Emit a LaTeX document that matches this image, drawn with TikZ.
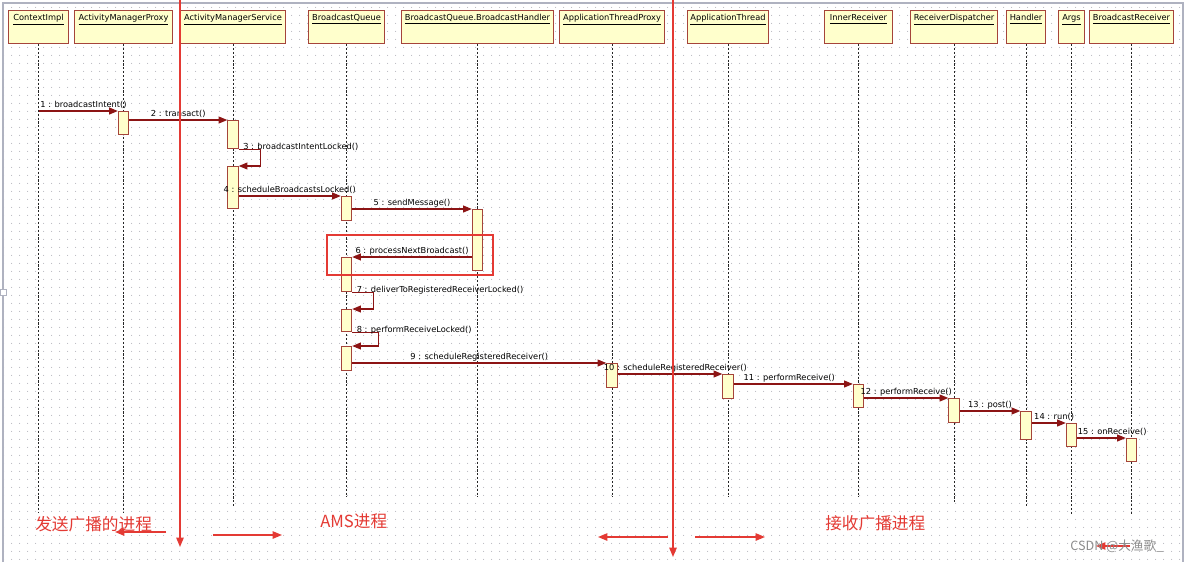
\documentclass[tikz,border=0pt]{standalone}
\usepackage{fontspec}
\setmainfont{DejaVu Sans}
\newfontfamily\cjk{Noto Sans CJK SC}
\usetikzlibrary{arrows.meta,patterns.meta}
\definecolor{hdrfill}{RGB}{255,255,204}
\definecolor{hdrline}{RGB}{165,68,58}
\definecolor{msgcol}{RGB}{140,20,20}
\definecolor{redmark}{RGB}{228,58,52}
\definecolor{dotcol}{RGB}{185,185,192}
\definecolor{framecol}{RGB}{175,178,192}
\tikzdeclarepattern{name=griddots, type=uncolored,
  bounding box={(0pt,0pt) and (6pt,6pt)}, tile size={(6pt,6pt)},
  code={\fill (3pt,3pt) circle (0.45pt);}}
\newcommand\hdrnode[4]{%
  \node[hdr, minimum width={(#3-#2)*0.75pt}] (#1) at (#2,10) {};
  \node[anchor=north, inner sep=0pt] (#1t) at ([yshift=-3.2pt]#1.north) {\underline{#4}};}
\newcommand\actnode[4]{%
  \node[act, minimum height={(#4-#3)*0.75pt}] (#1) at (#2.south |- 0,#3) {};}
\begin{document}
\begin{tikzpicture}[x=0.75pt,y=-0.75pt, font=\fontsize{6.2}{7}\selectfont,
  hdr/.style={draw=hdrline, fill=hdrfill, line width=0.8pt, anchor=north west, minimum height=24.75pt, inner sep=0pt},
  act/.style={draw=hdrline, fill=hdrfill, line width=0.8pt, anchor=north, minimum width=7.8pt, inner sep=0pt},
  life/.style={draw=black!85, line width=0.8pt, dash pattern=on 1.6pt off 1.3pt},
  msg/.style={draw=msgcol, line width=0.8pt, -{Triangle[length=6.5pt,width=5.2pt]}},
  lbl/.style={text=black, inner sep=1.2pt},
  slbl/.style={text=black, inner sep=0pt, anchor=base west},
  redln/.style={draw=redmark, line width=1.1pt, -{Triangle[length=7pt,width=5.5pt]}},
  hlbox/.style={draw=redmark, color=redmark, line width=1.1pt},
  zh/.style={text=redmark, inner sep=0pt, font=\cjk\fontsize{12.5}{14}\selectfont}]
\useasboundingbox (0,0) rectangle (1200,562);
\fill[white] (0,0) rectangle (1200,562);
\fill[pattern=griddots, pattern color=dotcol] (3,3) rectangle (1183,562);
\draw[framecol, line width=0.8pt] (3,562) -- (3,3) -- (1183,3) -- (1183,562);
\node[draw=framecol, fill=white, minimum size=4.5pt, inner sep=0pt, line width=0.6pt] (handle) at (3,292) {};

% headers
\hdrnode{h1}{8}{68}{ContextImpl}
\hdrnode{h2}{74}{172}{ActivityManagerProxy}
\hdrnode{h3}{180}{285}{ActivityManagerService}
\hdrnode{h4}{308}{384}{BroadcastQueue}
\hdrnode{h5}{401}{553}{BroadcastQueue.BroadcastHandler}
\hdrnode{h6}{559}{664}{ApplicationThreadProxy}
\hdrnode{h7}{687}{768}{ApplicationThread}
\hdrnode{h8}{824}{892}{InnerReceiver}
\hdrnode{h9}{910}{997}{ReceiverDispatcher}
\hdrnode{h10}{1006}{1045}{Handler}
\hdrnode{h11}{1058}{1084}{Args}
\hdrnode{h12}{1089}{1173}{BroadcastReceiver}

% lifelines
\draw[life] (h1.south) -- (h1.south |- 0,512);
\draw[life] (h2.south) -- (h2.south |- 0,512);
\draw[life] (h3.south) -- (h3.south |- 0,506);
\draw[life] (h4.south) -- (h4.south |- 0,497);
\draw[life] (h5.south) -- (h5.south |- 0,497);
\draw[life] (h6.south) -- (h6.south |- 0,497);
\draw[life] (h7.south) -- (h7.south |- 0,497);
\draw[life] (h8.south) -- (h8.south |- 0,497);
\draw[life] (h9.south) -- (h9.south |- 0,503);
\draw[life] (h10.south) -- (h10.south |- 0,508);
\draw[life] (h11.south) -- (h11.south |- 0,515);
\draw[life] (h12.south) -- (h12.south |- 0,515);

% activations
\actnode{p1}{h2}{111}{134}
\actnode{s1}{h3}{120}{148}
\actnode{s2}{h3}{166}{208}
\actnode{q1}{h4}{196}{220}
\actnode{b1}{h5}{209}{270}
\actnode{q2}{h4}{257}{291}
\actnode{q3}{h4}{309}{331}
\actnode{q4}{h4}{346}{370}
\actnode{t1}{h6}{363}{387}
\actnode{u1}{h7}{374}{398}
\actnode{i1}{h8}{384}{407}
\actnode{r1}{h9}{398}{422}
\actnode{d1}{h10}{411}{439}
\actnode{g1}{h11}{423}{446}
\actnode{k1}{h12}{438}{461}

% messages
\draw[msg] (h1.south |- p1.north) -- (p1.north west) node[lbl, midway, above, xshift=4pt] {1 : broadcastIntent()};
\draw[msg] (p1.east |- s1.north) -- (s1.north west) node[lbl, midway, above] {2 : transact()};
\draw[msg] (s1.south east) -- node[slbl, pos=0, xshift=3pt] {3 : broadcastIntentLocked()} ++(22,0) |- (s2.north east);
\draw[msg] (s2.east |- q1.north) -- (q1.north west) node[lbl, midway, above] {4 : scheduleBroadcastsLocked()};
\draw[msg] (q1.east |- b1.north) -- (b1.north west) node[lbl, midway, above] {5 : sendMessage()};
\draw[msg] (b1.west |- q2.north) -- (q2.north east) node[lbl, midway, above] {6 : processNextBroadcast()};
\draw[msg] (q2.south east) -- node[slbl, pos=0, xshift=3pt] {7 : deliverToRegisteredReceiverLocked()} ++(21,0) |- (q3.north east);
\draw[msg] (q3.south east) -- node[slbl, pos=0, xshift=3pt] {8 : performReceiveLocked()} ++(26,0) |- (q4.north east);
\draw[msg] (q4.east |- t1.north) -- (t1.north west) node[lbl, midway, above] {9 : scheduleRegisteredReceiver()};
\draw[msg] (t1.east |- u1.north) -- (u1.north west) node[lbl, midway, above, xshift=4pt] {10 : scheduleRegisteredReceiver()};
\draw[msg] (u1.east |- i1.north) -- (i1.north west) node[lbl, midway, above, xshift=-3pt] {11 : performReceive()};
\draw[msg] (i1.east |- r1.north) -- (r1.north west) node[lbl, midway, above] {12 : performReceive()};
\draw[msg] (r1.east |- d1.north) -- (d1.north west) node[lbl, midway, above] {13 : post()};
\draw[msg] (d1.east |- g1.north) -- (g1.north west) node[lbl, midway, above, xshift=4pt] {14 : run()};
\draw[msg] (g1.east |- k1.north) -- (k1.north west) node[lbl, midway, above, xshift=8pt] {15 : onReceive()};

% highlight box
\coordinate (hlA) at (327,235); \coordinate (hlB) at (493,275);
\draw[hlbox] (hlA) rectangle (hlB);

% process separators
\coordinate (v1a) at (180,0); \coordinate (v1b) at (180,547);
\coordinate (v2a) at (673,0); \coordinate (v2b) at (673,557);
\draw[redln] (v1a) -- (v1b);
\draw[redln] (v2a) -- (v2b);
\coordinate (l1a) at (166,532); \coordinate (l1b) at (115,532);
\coordinate (r1a) at (213,535); \coordinate (r1b) at (282,535);
\coordinate (l2a) at (668,537); \coordinate (l2b) at (598,537);
\coordinate (r2a) at (695,537); \coordinate (r2b) at (765,537);
\draw[redln] (l1a) -- (l1b);
\draw[redln] (r1a) -- (r1b);
\draw[redln] (l2a) -- (l2b);
\draw[redln] (r2a) -- (r2b);

\node[zh, anchor=west] (z1) at (35,524) {发送广播的进程};
\node[zh, anchor=west] (z2) at (320,521) {AMS进程};
\node[zh, anchor=west] (z3) at (825,523) {接收广播进程};

\coordinate (w1) at (1130,546); \coordinate (w2) at (1096,546);
\draw[redln, line width=0.8pt] (w1) -- (w2);
\node[anchor=west, inner sep=0pt, text=black!45, font=\cjk\fontsize{9.5}{11}\selectfont] (wm) at (1070,546) {CSDN @大渔歌\_};
\end{tikzpicture}
\end{document}
